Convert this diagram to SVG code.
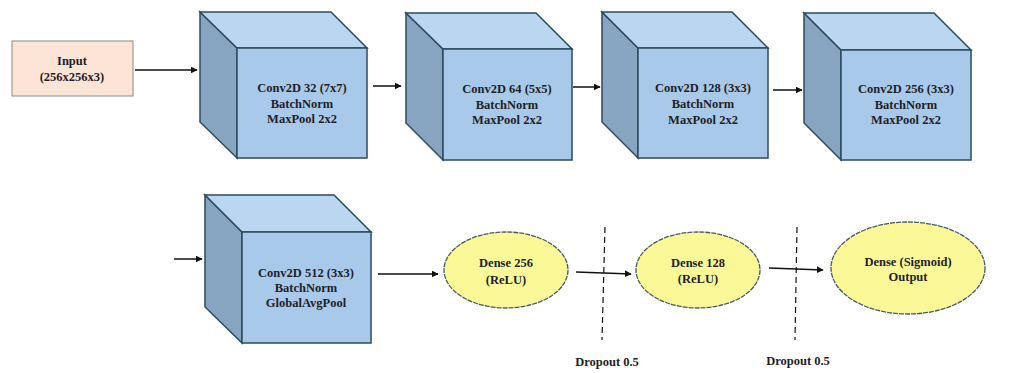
<svg xmlns="http://www.w3.org/2000/svg" width="1031" height="373" viewBox="0 0 1031 373">
<defs>
<style>
.front{fill:#a9c9ea;stroke:#2e4a5e;stroke-width:1.5}
.top{fill:#bad6f0;stroke:#2e4a5e;stroke-width:1.5}
.side{fill:#87a4c0;stroke:#2e4a5e;stroke-width:1.5}
.t{font-family:"Liberation Serif","Times New Roman",serif;font-weight:bold;font-size:12.5px;fill:#1e1e28;text-anchor:middle}
.ell{fill:#fbf997;stroke:#4a5a60;stroke-width:1.3;stroke-dasharray:5,1}
.conn{stroke:#111;stroke-width:1.5;fill:none;marker-end:url(#ah)}
.drop{stroke:#111;stroke-width:1.2;stroke-dasharray:6,4;fill:none}
</style>
<marker id="ah" viewBox="0 0 10 10" refX="9" refY="5" markerWidth="7" markerHeight="7" markerUnits="userSpaceOnUse" orient="auto">
<path d="M0,0 L10,5 L0,10 z" fill="#111"/>
</marker>
</defs>
<rect width="1031" height="373" fill="#fff"/>

<g id="input">
<rect x="12" y="41" width="121" height="55" fill="#fce4d6" stroke="#8a8a8a" stroke-width="1"/>
<text class="t" x="72" y="65">Input</text>
<text class="t" x="72" y="81">(256x256x3)</text>
</g>

<g id="conv1">
<polygon class="side" points="200,12 237,48 237,158 200,122"/>
<polygon class="top" points="200,12 331,12 367,48 237,48"/>
<rect class="front" x="237" y="48" width="130" height="110"/>
<text class="t" x="302" y="92">Conv2D 32 (7x7)</text>
<text class="t" x="302" y="108">BatchNorm</text>
<text class="t" x="302" y="123">MaxPool 2x2</text>
</g>

<g id="conv2">
<polygon class="side" points="406,13 443,49 443,160 406,123"/>
<polygon class="top" points="406,13 536,13 572,49 443,49"/>
<rect class="front" x="443" y="49" width="129" height="111"/>
<text class="t" x="507" y="93">Conv2D 64 (5x5)</text>
<text class="t" x="507" y="109">BatchNorm</text>
<text class="t" x="507" y="124">MaxPool 2x2</text>
</g>

<g id="conv3">
<polygon class="side" points="602,12 638,48 638,158 602,122"/>
<polygon class="top" points="602,12 732,12 768,48 638,48"/>
<rect class="front" x="638" y="48" width="130" height="110"/>
<text class="t" x="703" y="92">Conv2D 128 (3x3)</text>
<text class="t" x="703" y="108">BatchNorm</text>
<text class="t" x="703" y="124">MaxPool 2x2</text>
</g>

<g id="conv4">
<polygon class="side" points="804,13 841,50 841,160 804,123"/>
<polygon class="top" points="804,13 934,13 971,50 841,50"/>
<rect class="front" x="841" y="50" width="130" height="110"/>
<text class="t" x="906" y="93">Conv2D 256 (3x3)</text>
<text class="t" x="906" y="109">BatchNorm</text>
<text class="t" x="906" y="124">MaxPool 2x2</text>
</g>

<g id="conv5">
<polygon class="side" points="205,195 242,232 242,343 205,307"/>
<polygon class="top" points="205,195 334,195 371,232 242,232"/>
<rect class="front" x="242" y="232" width="129" height="111"/>
<text class="t" x="306" y="277">Conv2D 512 (3x3)</text>
<text class="t" x="306" y="292">BatchNorm</text>
<text class="t" x="306" y="307">GlobalAvgPool</text>
</g>

<g id="dense256">
<ellipse class="ell" cx="506" cy="270" rx="62" ry="38"/>
<text class="t" x="506" y="267">Dense 256</text>
<text class="t" x="506" y="284">(ReLU)</text>
</g>

<g id="dense128">
<ellipse class="ell" cx="698" cy="270" rx="62" ry="38"/>
<text class="t" x="698" y="267">Dense 128</text>
<text class="t" x="698" y="283">(ReLU)</text>
</g>

<g id="output">
<ellipse class="ell" cx="908" cy="268" rx="77" ry="46"/>
<text class="t" x="908" y="266">Dense (Sigmoid)</text>
<text class="t" x="908" y="281">Output</text>
</g>

<g id="dropout1">
<line class="drop" x1="605" y1="227" x2="602" y2="340"/>
<text class="t" x="607" y="366">Dropout 0.5</text>
</g>

<g id="dropout2">
<line class="drop" x1="797" y1="227" x2="795" y2="340"/>
<text class="t" x="798" y="365">Dropout 0.5</text>
</g>

<g id="connectors">
<line class="conn" x1="135" y1="70" x2="197" y2="70"/>
<line class="conn" x1="373" y1="86" x2="401" y2="86"/>
<line class="conn" x1="573" y1="87" x2="600" y2="87"/>
<line class="conn" x1="773" y1="90" x2="802" y2="90"/>
<line class="conn" x1="174" y1="259" x2="202" y2="259"/>
<line class="conn" x1="378" y1="274" x2="438" y2="274"/>
<line class="conn" x1="576" y1="272" x2="631" y2="274"/>
<line class="conn" x1="769" y1="268" x2="823" y2="270"/>
</g>
</svg>
